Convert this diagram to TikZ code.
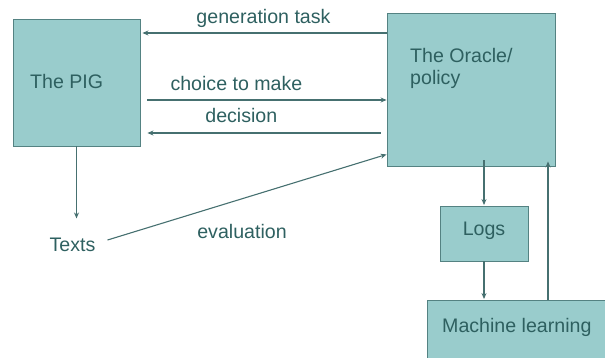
\documentclass[tikz,border=0pt]{standalone}
\usepackage{fontspec}
\setmainfont{Liberation Sans}
\usetikzlibrary{arrows.meta,calc}
\definecolor{boxfill}{RGB}{153,204,204}
\definecolor{boxedge}{RGB}{84,130,130}
\definecolor{wire}{RGB}{70,112,112}
\definecolor{ink}{RGB}{46,96,96}
\begin{document}
\begin{tikzpicture}[x=1pt,y=-1pt,
  every node/.style={font=\fontsize{19.6}{22}\selectfont, text=ink},
  block/.style={draw=boxedge, fill=boxfill, line width=0.9pt, inner sep=0pt},
  lbl/.style={inner sep=0pt, anchor=base west},
  wirearrow/.style={draw=wire, line width=1.1pt, -{Stealth[length=6pt,width=5pt]}},
  plainwire/.style={draw=wire, line width=1.1pt}]
  \useasboundingbox (0,0) rectangle (605,358);
  \clip (0,0) rectangle (605,358);

  % boxes
  \node[block, minimum width=127pt, minimum height=127pt] (pig) at (76.5,82.5) {};
  \node[block, minimum width=168pt, minimum height=153pt] (oracle) at (471,89.5) {};
  \node[block, minimum width=88pt, minimum height=55pt] (logs) at (484,233.5) {};
  \node[block, minimum width=180pt, minimum height=80pt] (ml) at (517,340) {};

  % box captions
  \node[lbl] (pigtext) at (30,89) {The PIG};
  \node[lbl] (oracletext) at (410,63) {The Oracle/};
  \node[lbl] (oracletext2) at (410,85) {policy};
  \node[inner sep=0pt] (logstext) at (484,231) {Logs};
  \node[lbl] (mltext) at (442,332) {Machine learning};
  \node[inner sep=0pt] (texts) at (72.5,245) {Texts};

  % exchange between generator and oracle
  \draw[wirearrow, shorten >=2pt] (oracle.west |- 0,33) -- (pig.east |- 0,33)
    node[midway, above=9pt, inner sep=0pt, anchor=base] (gentask) {generation task};
  \draw[wirearrow, shorten <=7pt] (pig.east |- 0,100) -- (oracle.west |- 0,100)
    node[pos=0.39, above=9pt, inner sep=0pt, anchor=base] (choice) {choice to make};
  \draw[wirearrow, shorten <=6pt, shorten >=7pt] (oracle.west |- 0,133) -- (pig.east |- 0,133)
    node[pos=0.59, above=10pt, inner sep=0pt, anchor=base] (decision) {decision};

  % output texts and their evaluation
  \draw[wirearrow] (pig.south) -- ($(pig.south)+(0,72)$);
  \draw[wirearrow] ($(texts.east)+(12,-5)$) -- ($(oracle.south west)+(0,-12)$);
  \node[inner sep=0pt] (evaltext) at (242,231) {evaluation};

  % learning loop
  \draw[wirearrow, shorten <=-6pt, shorten >=0.5pt] (oracle.south -| logs.north) -- (logs.north);
  \draw[wirearrow, shorten >=0.5pt] (logs.south) -- (logs.south |- ml.north);
  \draw[wirearrow, shorten >=-5pt] (ml.north -| 548,0) -- (oracle.south -| 548,0);
\end{tikzpicture}
\end{document}
